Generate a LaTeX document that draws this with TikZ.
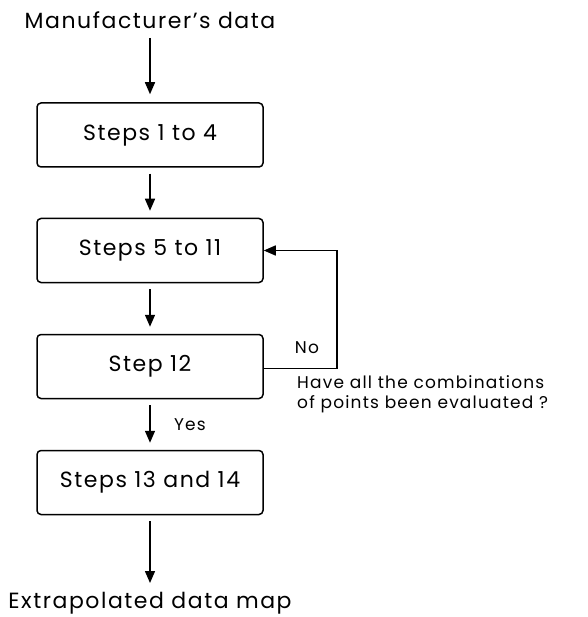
\documentclass[tikz,border=0pt]{standalone}
\usepackage{fontspec}
\setmainfont{Poppins}[LetterSpace=7]
\usetikzlibrary{arrows.meta}
\begin{document}
\begin{tikzpicture}[x=1pt,y=-1pt,
 box/.style={draw, line width=1.5pt, rounded corners=4pt, minimum width=226pt, minimum height=64pt, font=\fontsize{22}{26}\selectfont, inner sep=0pt},
 arr/.style={-{Triangle[width=10pt,length=12pt]}, line width=1.5pt},
 lbl/.style={font=\fontsize{22}{26}\selectfont, inner sep=0pt},
 ann/.style={font=\fontsize{17}{20}\selectfont, inner sep=0pt, align=left}]
\useasboundingbox (0,0) rectangle (587,617);
\node[lbl] (src) at (150,20) {Manufacturer’s data};
\node[box] (b1) at (150,135) {Steps 1 to 4};
\node[box] (b2) at (150,250.5) {Steps 5 to 11};
\node[box] (b3) at (150,366.5) {Step 12};
\node[box] (b4) at (150,482.5) {Steps 13 and 14};
\node[lbl] (dst) at (150,603) {Extrapolated data map};
\draw[arr] ([yshift=-18pt]src.center) -- ([yshift=8pt]b1.north);
\draw[arr, shorten <=6pt, shorten >=7pt] (b1) -- (b2);
\draw[arr, shorten <=6pt, shorten >=7pt] (b2) -- (b3);
\draw[arr, shorten <=6pt, shorten >=7pt] (b3) -- (b4);
\draw[arr] ([yshift=-6pt]b4.south) -- ([yshift=20pt]dst.center);
\draw[arr] ([yshift=-2pt]b3.east) -- ++(73,0) |- (b2.east);
\node[ann] (no) at (307,348) {No};
\node[ann] (yes) at (190,425) {Yes};
\node[ann, anchor=west] (q) at (297,394) {Have all the combinations\\of points been evaluated ?};
\end{tikzpicture}
\end{document}
